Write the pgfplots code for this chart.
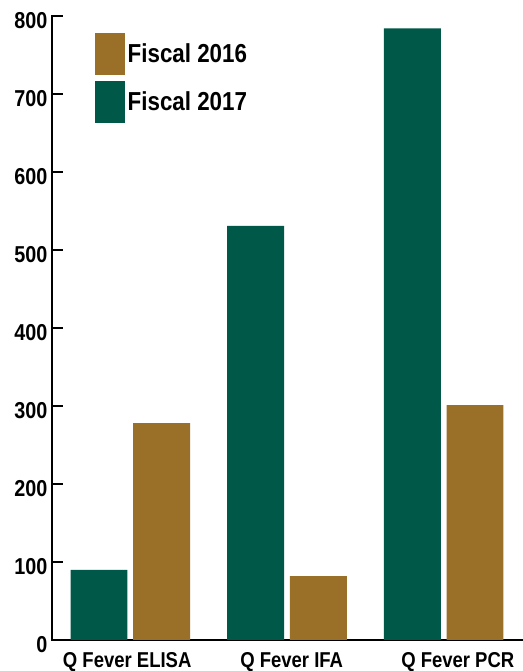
\documentclass[border=0pt]{standalone}
\usepackage{fontspec}
\setmainfont{Liberation Sans}[FakeStretch=0.86]
\usepackage{pgfplots}
\pgfplotsset{compat=1.18}
\definecolor{fgreen}{HTML}{005848}
\definecolor{fbrown}{HTML}{9A7028}
\begin{document}
\begin{tikzpicture}
\path[use as bounding box] (-52bp,-31bp) rectangle (471bp,640bp);
\begin{axis}[
  scale only axis,
  width=470bp, height=624bp,
  anchor=south west,
  at={(0,0)},
  xmin=-0.5, xmax=2.5,
  ymin=0, ymax=800,
  axis x line*=bottom, axis y line*=left,
  axis line style={line width=2.5bp, line cap=rect},
  every tick/.style={black, line width=2.5bp},
  ytick={0,100,...,800},
  ytick align=inside,
  major tick length=11bp,
  xtick={-0.02,1.03,2.09},
  xticklabels={Q Fever ELISA, Q Fever IFA, Q Fever PCR},
  x tick style={draw=none},
  minor xtick={0.5,1.5,2.5},
  minor x tick style={black, line width=2.5bp},
  minor tick length=14bp,
  xtick align=inside,
  /pgf/number format/assume math mode=true,
  xticklabel style={font=\bfseries\fontsize{21.5bp}{24bp}\selectfont, yshift=2bp},
  yticklabel style={font=\bfseries\fontsize{23bp}{26bp}\selectfont, yshift=-5bp, xshift=-1bp},
  legend style={draw=none, fill=none, at={(0.0915,0.973)}, anchor=north west,
    font=\bfseries\fontsize{26bp}{28bp}\selectfont, row sep=6bp,
    inner sep=0pt, nodes={inner sep=2.5bp}},
  legend cell align=left,
  ybar, bar width=0.363,
  clip=false,
]
\addplot[fill=fbrown, draw=none, bar shift=0.2,
  legend image code/.code={\path[fill=fbrown] (0bp,-21bp) rectangle (30bp,21bp);}]
  coordinates {(0,278) (1,82) (2,301)};
\addplot[fill=fgreen, draw=none, bar shift=-0.2,
  legend image code/.code={\path[fill=fgreen] (0bp,-21bp) rectangle (30bp,21bp);}]
  coordinates {(0,90) (1,531) (2,784)};
\legend{Fiscal 2016, Fiscal 2017}
\end{axis}
\end{tikzpicture}
\end{document}
